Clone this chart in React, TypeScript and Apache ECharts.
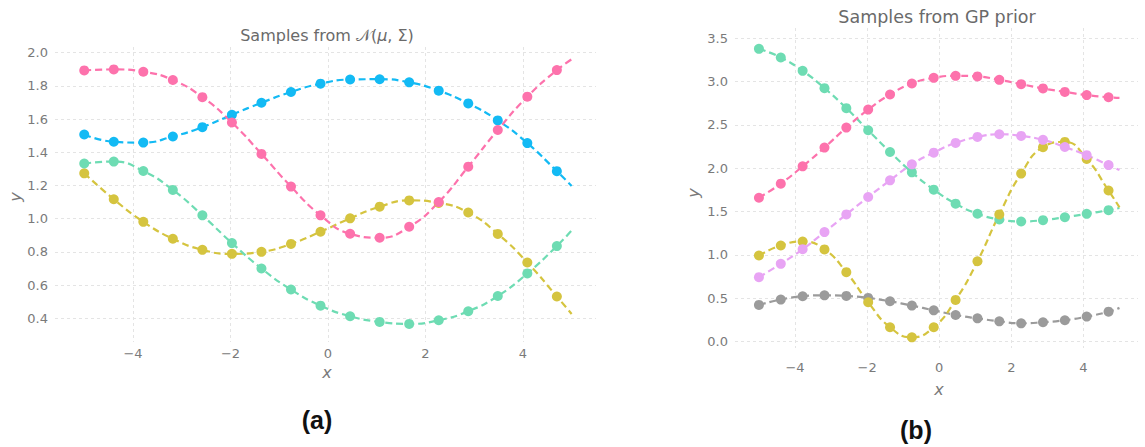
import React, { useEffect, useRef } from "react";
import * as echarts from "echarts";

// x positions of the marked samples (every 6th point of a 100-point grid on [-5, 5])
const xs = [-5, -4.394, -3.788, -3.182, -2.576, -1.97, -1.364, -0.758, -0.152, 0.455, 1.061, 1.667, 2.273, 2.879, 3.485, 4.091, 4.697];
const xEnd = 5;

// (a) Samples from N(mu, Sigma)
const pinkA = [1.893, 1.899, 1.885, 1.835, 1.732, 1.579, 1.39, 1.193, 1.02, 0.909, 0.885, 0.951, 1.1, 1.313, 1.534, 1.735, 1.895];
const pinkAEnd = 1.96;
const blueA = [1.507, 1.463, 1.458, 1.495, 1.551, 1.626, 1.698, 1.763, 1.813, 1.838, 1.84, 1.821, 1.771, 1.694, 1.592, 1.455, 1.286];
const blueAEnd = 1.197;
const greenA = [1.332, 1.344, 1.287, 1.173, 1.02, 0.853, 0.7, 0.573, 0.476, 0.412, 0.378, 0.366, 0.388, 0.442, 0.534, 0.67, 0.835];
const greenAEnd = 0.929;
const yellowA = [1.273, 1.117, 0.981, 0.879, 0.812, 0.788, 0.8, 0.848, 0.921, 1.002, 1.072, 1.11, 1.095, 1.037, 0.908, 0.736, 0.531];
const yellowAEnd = 0.426;

// (b) Samples from GP prior
const pinkB = [1.661, 1.823, 2.023, 2.239, 2.47, 2.678, 2.852, 2.979, 3.044, 3.067, 3.06, 3.021, 2.971, 2.922, 2.882, 2.845, 2.82];
const pinkBEnd = 2.813;
const violetB = [0.744, 0.898, 1.067, 1.264, 1.468, 1.669, 1.861, 2.046, 2.181, 2.293, 2.362, 2.393, 2.374, 2.329, 2.246, 2.152, 2.037];
const violetBEnd = 1.98;
const yellowB = [0.994, 1.11, 1.156, 1.064, 0.802, 0.455, 0.166, 0.05, 0.166, 0.482, 0.928, 1.468, 1.939, 2.244, 2.305, 2.108, 1.744];
const yellowBEnd = 1.55;
const greenB = [3.379, 3.279, 3.125, 2.925, 2.694, 2.439, 2.188, 1.954, 1.754, 1.592, 1.476, 1.41, 1.387, 1.402, 1.436, 1.475, 1.517];
const greenBEnd = 1.542;
const grayB = [0.424, 0.486, 0.524, 0.535, 0.528, 0.505, 0.466, 0.416, 0.362, 0.308, 0.269, 0.235, 0.212, 0.224, 0.247, 0.289, 0.346];
const grayBEnd = 0.39;

const xTicks = [-4, -2, 0, 2, 4];
const yTicksA = [0.4, 0.6, 0.8, 1.0, 1.2, 1.4, 1.6, 1.8, 2.0];
const yTicksB = [0, 0.5, 1.0, 1.5, 2.0, 2.5, 3.0, 3.5];

const titleA = "Samples from {n|𝒩}({m|μ}, Σ)";
const titleB = "Samples from GP prior";

const COLORS = {
  pink: "#fd72ac",
  blue: "#13baf4",
  green: "#6edcb3",
  yellow: "#d5c43f",
  violet: "#e8a4f4",
  gray: "#9b9b9b",
};

const TICK_COLOR = "#7a7a7a";
const FONT = "DejaVu Sans";

function buildData(vals: number[], end: number) {
  const d: any[] = xs.map((x, i) => [x, vals[i]]);
  d.push({ value: [xEnd, end], symbol: "none" });
  return d;
}

function lineSeries(vals: number[], end: number, color: string, axis: number) {
  return {
    type: "line",
    xAxisIndex: axis,
    yAxisIndex: axis,
    data: buildData(vals, end),
    smooth: true,
    symbol: "circle",
    symbolSize: 10,
    showAllSymbol: true,
    lineStyle: { color, width: 2.2, type: [7, 4] },
    itemStyle: { color },
    emphasis: { disabled: true },
  };
}

function xAxisOpt(gridIndex: number, min: number, max: number, margin: number) {
  return {
    type: "value",
    gridIndex,
    min,
    max,
    axisLine: { show: false },
    axisTick: { show: false, customValues: xTicks },
    axisLabel: {
      customValues: xTicks,
      color: TICK_COLOR,
      fontFamily: FONT,
      fontSize: 13,
      margin,
      formatter: (v: number) => (v < 0 ? "\u2212" + Math.abs(v) : String(v)),
    },
    splitLine: { show: true, lineStyle: { color: "#e4e4e4", width: 1, type: [3, 3] } },
  };
}

function yAxisOpt(gridIndex: number, min: number, max: number, ticks: number[]) {
  return {
    type: "value",
    gridIndex,
    min,
    max,
    axisLine: { show: false },
    axisTick: { show: false, customValues: ticks },
    axisLabel: {
      customValues: ticks,
      color: TICK_COLOR,
      fontFamily: FONT,
      fontSize: 13,
      margin: 7,
      formatter: (v: number) => v.toFixed(1),
    },
    splitLine: { show: true, lineStyle: { color: "#e4e4e4", width: 1, type: [3, 3] } },
  };
}

export default function App() {
  const ref = useRef<HTMLDivElement>(null);
  useEffect(() => {
    if (!ref.current) return;
    const chart = echarts.init(ref.current, undefined, { renderer: "svg" });
    const titleColor = "#6a6a6a";
    chart.setOption({
      animation: false,
      backgroundColor: "#ffffff",
      grid: [
        { left: 55, top: 47, width: 541, height: 295 },
        { left: 735, top: 28, width: 403, height: 320 },
      ],
      xAxis: [xAxisOpt(0, -5.6, 5.5, 5), xAxisOpt(1, -5.664, 5.514, 13)],
      yAxis: [yAxisOpt(0, 0.257, 2.034, yTicksA), yAxisOpt(1, -0.073, 3.619, yTicksB)],
      series: [
        lineSeries(yellowA, yellowAEnd, COLORS.yellow, 0),
        lineSeries(greenA, greenAEnd, COLORS.green, 0),
        lineSeries(blueA, blueAEnd, COLORS.blue, 0),
        lineSeries(pinkA, pinkAEnd, COLORS.pink, 0),
        lineSeries(grayB, grayBEnd, COLORS.gray, 1),
        lineSeries(greenB, greenBEnd, COLORS.green, 1),
        lineSeries(yellowB, yellowBEnd, COLORS.yellow, 1),
        lineSeries(violetB, violetBEnd, COLORS.violet, 1),
        lineSeries(pinkB, pinkBEnd, COLORS.pink, 1),
      ],
      graphic: [
        {
          type: "text",
          x: 327,
          y: 35,
          style: {
            text: titleA,
            font: `16px "${FONT}"`,
            fill: titleColor,
            textAlign: "center",
            textVerticalAlign: "middle",
            rich: {
              n: { fontFamily: FONT, fontSize: 16, color: titleColor },
              m: { fontFamily: FONT, fontStyle: "italic", fontSize: 16, color: titleColor },
            },
          },
        },
        {
          type: "text",
          x: 937,
          y: 17,
          style: {
            text: titleB,
            font: `17.5px "${FONT}"`,
            fill: titleColor,
            textAlign: "center",
            textVerticalAlign: "middle",
          },
        },
        {
          type: "text",
          x: 327,
          y: 372,
          style: { text: "x", font: `italic 16px "${FONT}"`, fill: TICK_COLOR, textAlign: "center", textVerticalAlign: "middle" },
        },
        {
          type: "text",
          x: 939,
          y: 389,
          style: { text: "x", font: `italic 16px "${FONT}"`, fill: TICK_COLOR, textAlign: "center", textVerticalAlign: "middle" },
        },
        {
          type: "text",
          x: 15,
          y: 197,
          rotation: Math.PI / 2,
          style: { text: "y", font: `italic 16px "${FONT}"`, fill: TICK_COLOR, textAlign: "center", textVerticalAlign: "middle" },
        },
        {
          type: "text",
          x: 693,
          y: 193,
          rotation: Math.PI / 2,
          style: { text: "y", font: `italic 16px "${FONT}"`, fill: TICK_COLOR, textAlign: "center", textVerticalAlign: "middle" },
        },
        {
          type: "text",
          x: 317,
          y: 420,
          style: { text: "(a)", font: `bold 25px "Liberation Sans"`, fill: "#111111", textAlign: "center", textVerticalAlign: "middle" },
        },
        {
          type: "text",
          x: 916,
          y: 430,
          style: { text: "(b)", font: `bold 25px "Liberation Sans"`, fill: "#111111", textAlign: "center", textVerticalAlign: "middle" },
        },
      ],
    });
    return () => chart.dispose();
  }, []);
  return (
    <div
      ref={ref}
      style={{ position: "fixed", left: 0, top: 0, width: 1145, height: 447, background: "#fff" }}
    />
  );
}
